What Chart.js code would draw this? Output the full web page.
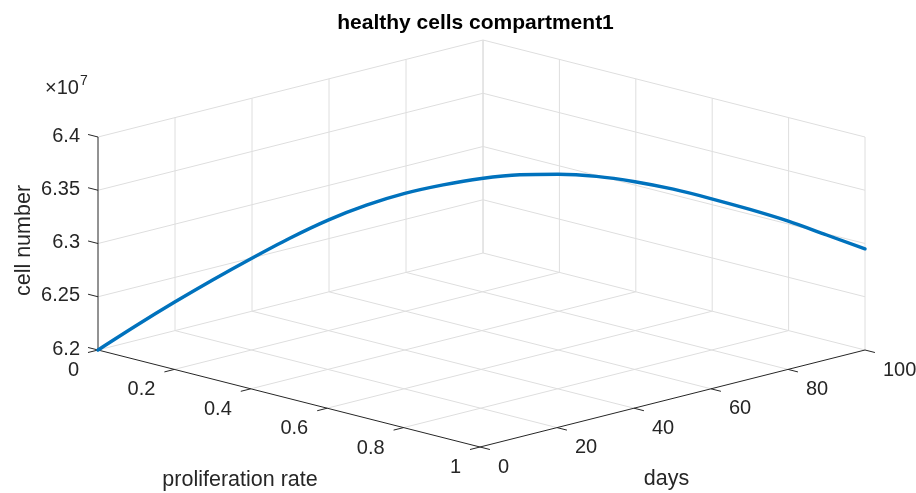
<!DOCTYPE html>
<html>
<head>
<meta charset="utf-8">
<script src="https://cdn.jsdelivr.net/npm/chart.js@4.4.1/dist/chart.umd.min.js"></script>
<style>
html,body{margin:0;padding:0;background:#fff;}
#wrap{width:916px;height:493px;position:relative;}
</style>
</head>
<body>
<div id="wrap"><canvas id="c" width="916" height="493"></canvas></div>
<script>
// ---- data (cell number in units of 1e7) ----
const days = [0,5,10,15,20,25,30,35,40,45,50,55,60,65,70,75,80,85,90,95,100];
const prolifRate = [0,0.05,0.1,0.15,0.2,0.25,0.3,0.35,0.4,0.45,0.5,0.55,0.6,0.65,0.7,0.75,0.8,0.85,0.9,0.95,1];
const cellNumber = [6.2,6.223,6.245,6.266,6.286,6.305,6.322,6.336,6.347,6.355,6.361,6.3645,6.365,6.363,6.358,6.351,6.342,6.332,6.321,6.308,6.295];

const zTicks = [6.2,6.25,6.3,6.35,6.4];
const zTickLabels = ['6.2','6.25','6.3','6.35','6.4'];
const pTicks = [0,0.2,0.4,0.6,0.8,1];
const pTickLabels = ['0','0.2','0.4','0.6','0.8','1'];
const dTicks = [0,20,40,60,80,100];
const dTickLabels = ['0','20','40','60','80','100'];

const titleText = 'healthy cells compartment1';
const xLabelText = 'proliferation rate';
const yLabelText = 'days';
const zLabelText = 'cell number';
const exponentBase = '\u00D710';
const exponentPower = '7';

// ---- 3D view (axis limits and projected box layout) ----
const LIM = {p:[0,1], d:[0,100], z:[6.2,6.4]};
const VIEW = {ox:98, oy:350, px:382, py:97, dx:385, dy:-97, zy:-213};
function proj(p,d,z){
  const u=(p-LIM.p[0])/(LIM.p[1]-LIM.p[0]);
  const v=(d-LIM.d[0])/(LIM.d[1]-LIM.d[0]);
  const w=(z-LIM.z[0])/(LIM.z[1]-LIM.z[0]);
  return {x:VIEW.ox+u*VIEW.px+v*VIEW.dx, y:VIEW.oy+u*VIEW.py+v*VIEW.dy+w*VIEW.zy};
}
function seg(a,b){return [proj(a[0],a[1],a[2]),proj(b[0],b[1],b[2])];}

const GRID='rgb(222,222,222)', AXIS='rgb(38,38,38)';
const datasets=[];
function addLine(pts,color,width,order){
  datasets.push({data:pts,showLine:true,borderColor:color,borderWidth:width,pointRadius:0,pointHoverRadius:0,fill:false,tension:0,order:order});
}
const [p0,p1]=LIM.p,[d0,d1]=LIM.d,[z0,z1]=LIM.z;
// floor grid
dTicks.forEach(d=>{ if(d!==d0) addLine(seg([p0,d,z0],[p1,d,z0]),GRID,1,3); });
pTicks.forEach(p=>{ if(p!==p1) addLine(seg([p,d0,z0],[p,d1,z0]),GRID,1,3); });
// back wall p = 0
dTicks.forEach(d=>{ if(d!==d0) addLine(seg([p0,d,z0],[p0,d,z1]),GRID,1,3); });
zTicks.forEach(z=>{ if(z!==z0) addLine(seg([p0,d0,z],[p0,d1,z]),GRID,1,3); });
// back wall d = 100
pTicks.forEach(p=>{ addLine(seg([p,d1,z0],[p,d1,z1]),GRID,1,3); });
zTicks.forEach(z=>{ if(z!==z0) addLine(seg([p0,d1,z],[p1,d1,z]),GRID,1,3); });
// axes
addLine(seg([p0,d0,z0],[p0,d0,z1]),AXIS,1,2);
addLine(seg([p0,d0,z0],[p1,d0,z0]),AXIS,1,2);
addLine(seg([p1,d0,z0],[p1,d1,z0]),AXIS,1,2);
// ticks (outward)
const tp=0.026*(p1-p0), td=0.026*(d1-d0);
zTicks.forEach(z=>addLine(seg([p0,d0,z],[p0-tp,d0,z]),AXIS,1,2));
pTicks.forEach(p=>addLine(seg([p,d0,z0],[p,d0-td,z0]),AXIS,1,2));
dTicks.forEach(d=>addLine(seg([p1,d,z0],[p1+tp,d,z0]),AXIS,1,2));
// curve
datasets.push({
  label:'cells',
  data:days.map((d,i)=>proj(prolifRate[i],d,cellNumber[i])),
  showLine:true,borderColor:'#0072BD',borderWidth:3.4,pointRadius:0,fill:false,
  cubicInterpolationMode:'monotone',borderCapStyle:'round',order:0
});

const FONT='"Liberation Sans", Arial, Helvetica, sans-serif';
const textPlugin={
  id:'labels3d',
  afterDraw(chart){
    const ctx=chart.ctx, sx=chart.scales.x, sy=chart.scales.y;
    const P=(pt)=>({x:sx.getPixelForValue(pt.x),y:sy.getPixelForValue(pt.y)});
    ctx.save();
    ctx.fillStyle=AXIS;
    ctx.font='20px '+FONT;
    // z tick labels
    ctx.textAlign='right';ctx.textBaseline='middle';
    zTicks.forEach((z,i)=>{const a=P(proj(p0,d0,z));ctx.fillText(zTickLabels[i],a.x-18,a.y-1);});
    // p tick labels
    pTicks.forEach((p,i)=>{const a=P(proj(p,d0,z0));ctx.fillText(pTickLabels[i],a.x-19,a.y+20.5);});
    // d tick labels
    ctx.textAlign='left';
    dTicks.forEach((d,i)=>{const a=P(proj(p1,d,z0));ctx.fillText(dTickLabels[i],a.x+18,a.y+20);});
    // exponent
    ctx.textBaseline='alphabetic';
    const ztop=P(proj(p0,d0,z1));
    ctx.fillText(exponentBase,ztop.x-53,ztop.y-43);
    const w=ctx.measureText(exponentBase).width;
    ctx.font='14px '+FONT;
    ctx.fillText(exponentPower,ztop.x-53+w+1,ztop.y-52);
    // axis labels
    ctx.font='21.5px '+FONT;
    ctx.textAlign='center';
    const pm=P(proj((p0+p1)/2,d0,z0));
    ctx.fillText(xLabelText,pm.x-49,pm.y+87);
    const dm=P(proj(p1,(d0+d1)/2,z0));
    ctx.fillText(yLabelText,dm.x-6,dm.y+86.5);
    const zm=P(proj(p0,d0,(z0+z1)/2));
    ctx.save();
    ctx.translate(zm.x-68,zm.y-3);
    ctx.rotate(-Math.PI/2);
    ctx.fillText(zLabelText,0,0);
    ctx.restore();
    // title
    ctx.fillStyle='#000';
    ctx.font='bold 21px '+FONT;
    ctx.fillText(titleText,475.5,29);
    ctx.restore();
  }
};

new Chart(document.getElementById('c'),{
  type:'scatter',
  data:{datasets:datasets},
  options:{
    responsive:false,
    animation:false,
    events:[],
    layout:{padding:0},
    plugins:{legend:{display:false},tooltip:{enabled:false},title:{display:false}},
    scales:{
      x:{type:'linear',min:0,max:916,display:false},
      y:{type:'linear',min:0,max:493,reverse:true,display:false}
    }
  },
  plugins:[textPlugin]
});
</script>
</body>
</html>
